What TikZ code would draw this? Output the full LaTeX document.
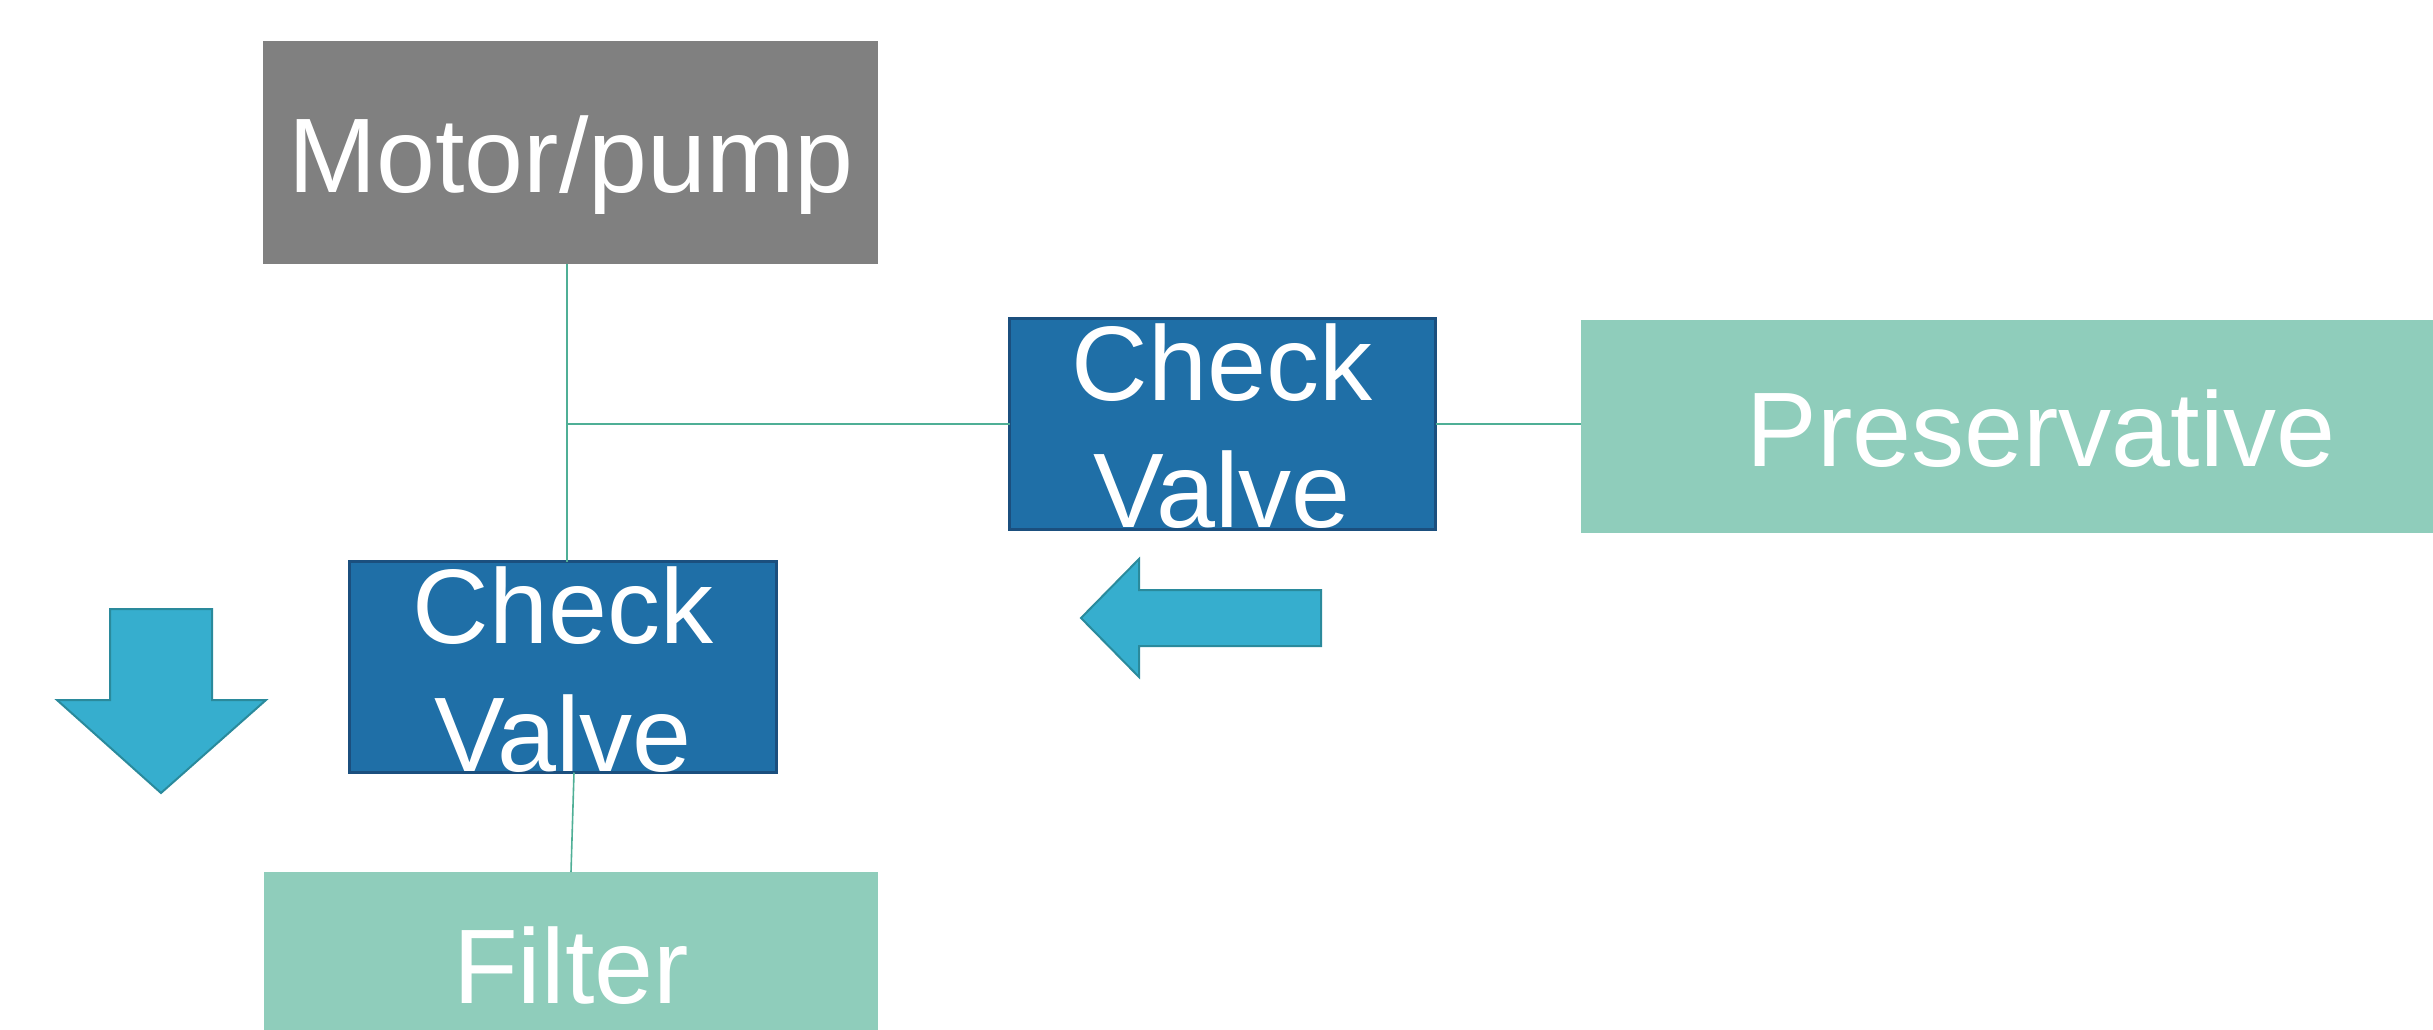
\documentclass[tikz,border=0pt]{standalone}
\usepackage{fontspec}
\setmainfont{Liberation Sans}
\definecolor{motorgray}{HTML}{808080}
\definecolor{valveblue}{HTML}{1F6FA7}
\definecolor{valveedge}{HTML}{1B4F7E}
\definecolor{mint}{HTML}{8FCDBB}
\definecolor{arrowfill}{HTML}{36AECE}
\definecolor{arrowedge}{HTML}{2A8A9C}
\definecolor{pipe}{HTML}{4FAF96}
\tikzset{
  blockbox/.style={rectangle, inner sep=0pt, outer sep=0pt},
  motorbox/.style={blockbox, fill=motorgray},
  valvebox/.style={blockbox, fill=valveblue, draw=valveedge, line width=3pt},
  mintbox/.style={blockbox, fill=mint},
  lbl/.style={text=white, font=\fontsize{106}{127}\selectfont, anchor=base, inner sep=0pt},
  pipeline/.style={draw=pipe, line width=1.6pt},
  flowarrow/.style={fill=arrowfill, draw=arrowedge, line width=2pt, line join=miter}
}
\begin{document}
\begin{tikzpicture}[x=1pt, y=-1pt]
\useasboundingbox (0,0) rectangle (2433,1030);
\clip (0,0) rectangle (2433,1030);
% boxes
\node[motorbox, minimum width=615pt, minimum height=223pt] (mp) at (570.5,152.5) {};
\node[valvebox, minimum width=426pt, minimum height=211pt] (cv1) at (1222.5,424) {};
\node[mintbox, minimum width=920pt, minimum height=213pt] (pres) at (2041,426.5) {};
\node[valvebox, minimum width=427pt, minimum height=211pt] (cv2) at (563,667) {};
\node[mintbox, minimum width=614pt, minimum height=186pt] (filt) at (571,965) {};
% connectors
\coordinate (jn) at ([xshift=-3.5pt]mp.south);
\draw[pipeline] (jn) -- (jn |- cv2.north);
\draw[pipeline] (cv1.west) -- (cv1.west -| jn);
\draw[pipeline] (cv1.east) -- (cv1.east -| pres.west);
\draw[pipeline] ([xshift=11pt]cv2.south) -- (filt.north);
% labels
\node[lbl] (mptext) at (571,192) {Motor/pump};
\node[lbl] (cv1a) at (1222,400) {Check};
\node[lbl] (cv1b) at (1222,527) {Valve};
\node[lbl] (prestext) at (2041,466) {Preservative};
\node[lbl] (cv2a) at (563,643) {Check};
\node[lbl] (cv2b) at (563,771) {Valve};
\node[lbl] (filttext) at (571,1003) {Filter};
% flow arrows
\draw[flowarrow] (110,609) -- (212,609) -- (212,700) -- (266,700) -- (161,793) -- (57,700) -- (110,700) -- cycle;
\draw[flowarrow] (1081,618) -- (1139,559) -- (1139,590) -- (1321,590) -- (1321,646) -- (1139,646) -- (1139,677) -- cycle;
\end{tikzpicture}
\end{document}
